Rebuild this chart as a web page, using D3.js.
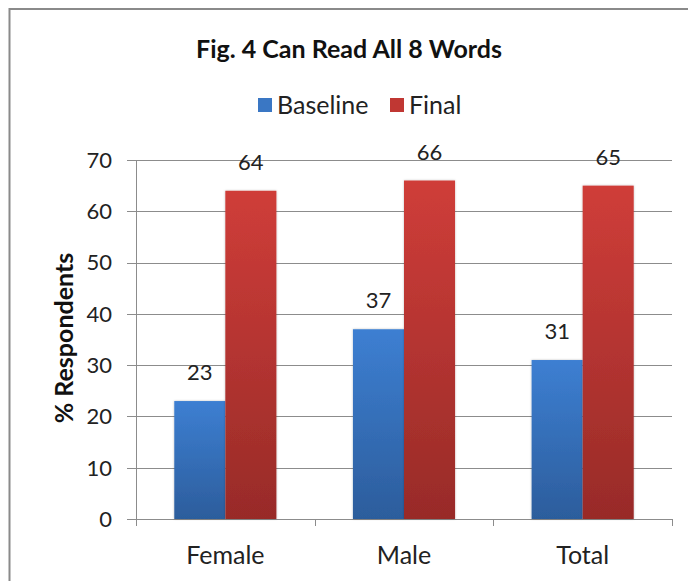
<!DOCTYPE html>
<html><head><meta charset="utf-8">
<script src="https://cdn.jsdelivr.net/npm/d3@7"></script>
<style>body{margin:0;background:#fff}svg{display:block}</style>
</head><body>
<script>
const categories = ["Female", "Male", "Total"];
const seriesNames = ["Baseline", "Final"];
const baseline = [23, 37, 31];
const finalVals = [64, 66, 65];
const yTicks = [0, 10, 20, 30, 40, 50, 60, 70];
const title = "Fig. 4 Can Read All 8 Words";
const yTitle = "% Respondents";

const W = 688, H = 581;
const font = "Lato, 'Open Sans', sans-serif";
const svg = d3.select("body").append("svg").attr("width", W).attr("height", H);
const defs = svg.append("defs");
function grad(id, c1, c2) {
  const g = defs.append("linearGradient").attr("id", id).attr("x1", 0).attr("y1", 0).attr("x2", 0).attr("y2", 1);
  g.append("stop").attr("offset", "0%").attr("stop-color", c1);
  g.append("stop").attr("offset", "100%").attr("stop-color", c2);
}
grad("gB", "#3d7fd2", "#2c5d9c");
grad("gR", "#cf3d39", "#982b28");
const flt = defs.append("filter").attr("id", "sh").attr("x", "-10%").attr("y", "-10%").attr("width", "120%").attr("height", "120%");
flt.append("feDropShadow").attr("dx", 0).attr("dy", 0).attr("stdDeviation", 1.2).attr("flood-color", "#000").attr("flood-opacity", 0.25);

// frame
svg.append("path").attr("d", `M9.5,${H} L9.5,9 L${W},9`).attr("fill", "none").attr("stroke", "#8a8a8a").attr("stroke-width", 2);

const pLeft = 136, pRight = 672, pTop = 160, pBottom = 519;
const x = d3.scaleBand().domain(categories).range([pLeft, pRight]).paddingInner(0).paddingOuter(0);
const y = d3.scaleLinear().domain([0, 70]).range([pBottom, pTop]);
const colors = ["url(#gB)", "url(#gR)"];
const legendColors = ["#3a77c4", "#c03733"];

// gridlines
svg.append("g").selectAll("line").data(yTicks).join("line")
  .attr("x1", pLeft - 9).attr("x2", pRight)
  .attr("y1", d => Math.round(y(d)) + 0.5).attr("y2", d => Math.round(y(d)) + 0.5)
  .attr("stroke", "#8c8c8c").attr("stroke-width", 1);
// y axis line
svg.append("line").attr("x1", pLeft + 0.5).attr("x2", pLeft + 0.5).attr("y1", pTop).attr("y2", pBottom + 1)
  .attr("stroke", "#8c8c8c");
// x ticks at band boundaries
const bounds = categories.map(c => x(c)).concat([pRight]);
svg.append("g").selectAll("line").data(bounds).join("line")
  .attr("x1", d => Math.round(d) + 0.5).attr("x2", d => Math.round(d) + 0.5)
  .attr("y1", pBottom).attr("y2", pBottom + 7).attr("stroke", "#8c8c8c");

// y tick labels
svg.append("g").selectAll("text").data(yTicks).join("text")
  .attr("x", pLeft - 24).attr("y", d => y(d)).attr("dy", "0.36em")
  .attr("text-anchor", "end").attr("font-family", font).attr("font-size", 22).attr("fill", "#222")
  .text(d => d);

// bars
const gap = 1.5;
const bw = x.bandwidth() / (2 + gap);
const groups = svg.append("g").selectAll("g").data(categories).join("g");
[baseline, finalVals].forEach((vals, s) => {
  groups.append("rect")
    .attr("x", (c, i) => x(c) + bw * gap / 2 + s * bw)
    .attr("width", bw)
    .attr("y", (c, i) => y(vals[i]))
    .attr("height", (c, i) => pBottom - y(vals[i]))
    .attr("fill", colors[s]).attr("filter", "url(#sh)");
  groups.append("text")
    .attr("x", (c, i) => x(c) + bw * gap / 2 + s * bw + bw / 2)
    .attr("y", (c, i) => y(vals[i]) - 21)
    .attr("text-anchor", "middle").attr("font-family", font).attr("font-size", 22).attr("fill", "#222")
    .text((c, i) => vals[i]);
});

// category labels
svg.append("g").selectAll("text").data(categories).join("text")
  .attr("x", d => x(d) + x.bandwidth() / 2).attr("y", 564)
  .attr("text-anchor", "middle").attr("font-family", font).attr("font-size", 25).attr("fill", "#222")
  .text(d => d);

// title
svg.append("text").attr("x", 349).attr("y", 58).attr("text-anchor", "middle")
  .attr("font-family", font).attr("font-size", 25).attr("font-weight", "bold").attr("fill", "#111").text(title);

// legend
const lg = svg.append("g");
const items = [{n: seriesNames[0], x: 258}, {n: seriesNames[1], x: 390}];
items.forEach((it, i) => {
  lg.append("rect").attr("x", it.x).attr("y", 98).attr("width", 14).attr("height", 14).attr("fill", legendColors[i]);
  lg.append("text").attr("x", it.x + 19).attr("y", 105).attr("dy", "0.36em")
    .attr("font-family", font).attr("font-size", 25).attr("fill", "#222").text(it.n);
});

// y title
svg.append("text").attr("transform", "translate(73,338) rotate(-90)").attr("text-anchor", "middle")
  .attr("font-family", font).attr("font-size", 25).attr("font-weight", "bold").attr("fill", "#111").text(yTitle);
</script>
</body></html>
